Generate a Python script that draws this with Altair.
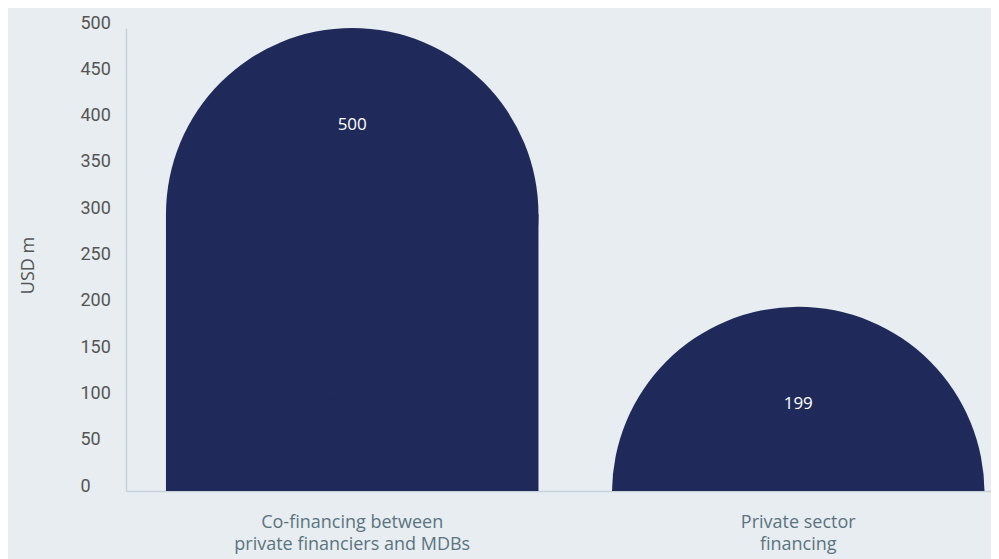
import math
import altair as alt
import pandas as pd

# ---- data ----
categories = ["Co-financing between|private financiers and MDBs", "Private sector|financing"]
values = [500, 199]
value_labels = ["500", "199"]
y_ticks = [0, 50, 100, 150, 200, 250, 300, 350, 400, 450, 500]

df = pd.DataFrame({"category": categories, "value": values, "label": value_labels})

# ---- layout / style ----
W, H = 865, 463
Y_MAX = 500
NAVY = "#1f2a5a"
BG = "#e7edf0"
AXIS_LINE = "#c6d4d9"
R_PX = 186.25                      # half of the band width -> rounded top radius
R_UNITS = R_PX * Y_MAX / H         # the same radius in data units

x_scale = alt.Scale(paddingInner=0.1648, paddingOuter=0.0521, align=0.86)
y_scale = alt.Scale(domain=[0, Y_MAX], nice=False)

base = alt.Chart(df).transform_calculate(
    center=f"datum.value - {R_UNITS}",
    rect_top=f"max(0, datum.value - {R_UNITS})",
)

x_axis = alt.Axis(
    title=None,
    labelExpr="split(datum.label, '|')",
    labelAngle=0,
    labelFont="Open Sans",
    labelFontSize=18,
    labelColor="#5b7480",
    labelLineHeight=22,
    labelPadding=22,
    labelLimit=500,
    ticks=False,
    tickSize=0,
    domainColor=AXIS_LINE,
    domainWidth=1.5,
)

y_axis = alt.Axis(
    title="USD m",
    values=y_ticks,
    grid=False,
    ticks=False,
    tickSize=0,
    labelAlign="left",
    labelBaseline="middle",
    labelPadding=46,
    labelOffset=-5,
    labelFont="Roboto",
    labelFontSize=18,
    labelColor="#555555",
    labelFlush=False,
    labelOverlap=False,
    domainColor=AXIS_LINE,
    domainWidth=1.5,
    titleX=-98,
    titleY=237,
    titleAngle=270,
    titleAlign="center",
    titleBaseline="middle",
    titleFont="Open Sans",
    titleFontSize=18,
    titleFontWeight="normal",
    titleColor="#555555",
)

x_enc = alt.X("category:N", sort=categories, scale=x_scale, axis=x_axis, title=None)

rect = base.mark_bar(color=NAVY).encode(
    x=x_enc,
    y=alt.Y("rect_top:Q", scale=y_scale, axis=y_axis, stack=None, title="USD m"),
    y2=alt.datum(0),
)

arc = base.mark_arc(color=NAVY, radius=R_PX, theta=0, theta2=2 * math.pi, clip=True).encode(
    x=x_enc,
    y=alt.Y("center:Q", scale=y_scale, axis=y_axis, title="USD m"),
)

text = base.mark_text(color="white", font="Open Sans", fontSize=17, dy=97).encode(
    x=x_enc,
    y=alt.Y("value:Q", scale=y_scale, axis=y_axis, title="USD m"),
    text="label:N",
)

chart = (
    alt.layer(rect, arc, text)
    .properties(
        width=W,
        height=H,
        padding={"left": 118, "top": 20, "right": 0, "bottom": 68},
        autosize=alt.AutoSizeParams(type="none"),
        background=BG,
    )
    .configure_view(stroke=None)
)

chart.save("out.html", embed_options={"renderer": "svg", "actions": False})
